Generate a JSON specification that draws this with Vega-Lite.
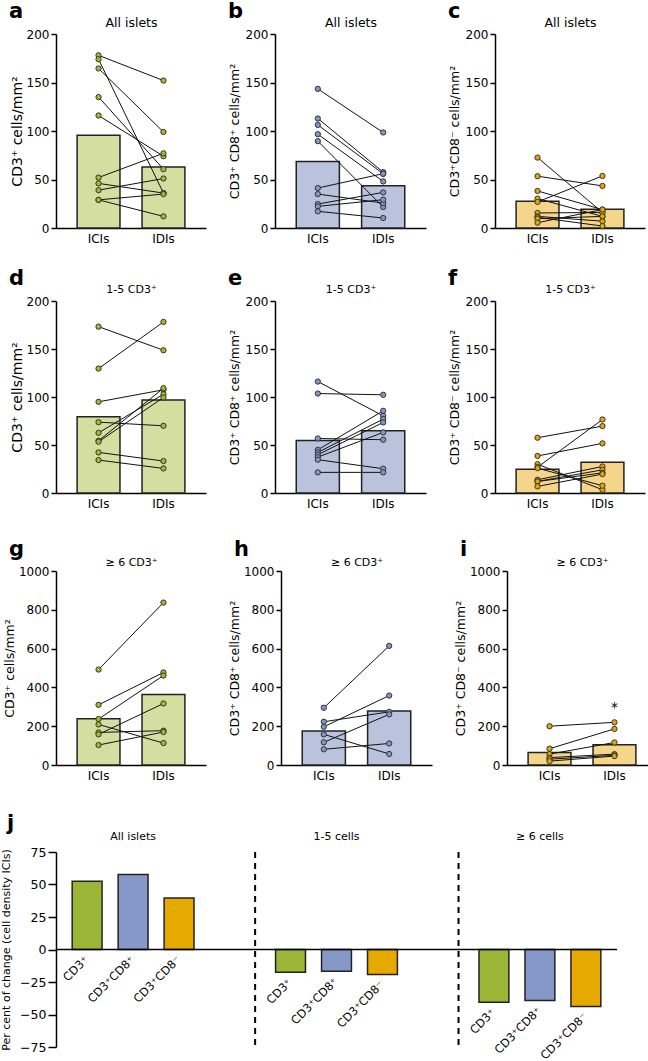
{
"$schema":"https://vega.github.io/schema/vega-lite/v6.json",
"padding":{"left":0,"top":1,"right":1,"bottom":0},
"datasets":{
"pts":[
{"p":"a","id":1,"ICIs":178,"IDIs":152},{"p":"a","id":2,"ICIs":174,"IDIs":36},{"p":"a","id":3,"ICIs":164.5,"IDIs":99},{"p":"a","id":4,"ICIs":135,"IDIs":60.6},{"p":"a","id":5,"ICIs":116,"IDIs":74},{"p":"a","id":6,"ICIs":52,"IDIs":77},{"p":"a","id":7,"ICIs":46,"IDIs":36},{"p":"a","id":8,"ICIs":39,"IDIs":51},{"p":"a","id":9,"ICIs":29,"IDIs":35},{"p":"a","id":10,"ICIs":29,"IDIs":12},
{"p":"b","id":1,"ICIs":143.4,"IDIs":98.5},{"p":"b","id":2,"ICIs":112.9,"IDIs":57.6},{"p":"b","id":3,"ICIs":106.3,"IDIs":55.9},{"p":"b","id":4,"ICIs":96.7,"IDIs":48},{"p":"b","id":5,"ICIs":89.5,"IDIs":21.6},{"p":"b","id":6,"ICIs":41.2,"IDIs":56},{"p":"b","id":7,"ICIs":35,"IDIs":25.7},{"p":"b","id":8,"ICIs":24.7,"IDIs":36.7},{"p":"b","id":9,"ICIs":22.3,"IDIs":29.2},{"p":"b","id":10,"ICIs":17.2,"IDIs":10.3},
{"p":"c","id":1,"ICIs":72.6,"IDIs":16},{"p":"c","id":2,"ICIs":53.4,"IDIs":43.4},{"p":"c","id":3,"ICIs":38.2,"IDIs":19},{"p":"c","id":4,"ICIs":30.3,"IDIs":12},{"p":"c","id":5,"ICIs":26.9,"IDIs":53.7},{"p":"c","id":6,"ICIs":15.5,"IDIs":16},{"p":"c","id":7,"ICIs":12,"IDIs":7},{"p":"c","id":8,"ICIs":11,"IDIs":2},{"p":"c","id":9,"ICIs":9.6,"IDIs":12},{"p":"c","id":10,"ICIs":5.5,"IDIs":19},
{"p":"d","id":1,"ICIs":173.3,"IDIs":148.7},{"p":"d","id":2,"ICIs":129.6,"IDIs":178.2},{"p":"d","id":3,"ICIs":95,"IDIs":107.5},{"p":"d","id":4,"ICIs":73.8,"IDIs":70},{"p":"d","id":5,"ICIs":62.7,"IDIs":102.9},{"p":"d","id":6,"ICIs":54.4,"IDIs":109.2},{"p":"d","id":7,"ICIs":53.4,"IDIs":99.5},{"p":"d","id":8,"ICIs":42.3,"IDIs":33.3},{"p":"d","id":9,"ICIs":34.3,"IDIs":25.6},
{"p":"e","id":1,"ICIs":116.1,"IDIs":80.4},{"p":"e","id":2,"ICIs":103.6,"IDIs":102.3},{"p":"e","id":3,"ICIs":56.8,"IDIs":55.5},{"p":"e","id":4,"ICIs":45,"IDIs":85.6},{"p":"e","id":5,"ICIs":42.3,"IDIs":77},{"p":"e","id":6,"ICIs":39.9,"IDIs":73.5},{"p":"e","id":7,"ICIs":37.4,"IDIs":63.1},{"p":"e","id":8,"ICIs":34.7,"IDIs":25.3},{"p":"e","id":9,"ICIs":21.5,"IDIs":21.5},
{"p":"f","id":1,"ICIs":57.6,"IDIs":69.7},{"p":"f","id":2,"ICIs":38.6,"IDIs":51.7},{"p":"f","id":3,"ICIs":30,"IDIs":3.4},{"p":"f","id":4,"ICIs":26.9,"IDIs":76.6},{"p":"f","id":5,"ICIs":25.9,"IDIs":7.6},{"p":"f","id":6,"ICIs":13.8,"IDIs":27.6},{"p":"f","id":7,"ICIs":12.1,"IDIs":24.1},{"p":"f","id":8,"ICIs":12,"IDIs":21},{"p":"f","id":9,"ICIs":6.9,"IDIs":19.7},
{"p":"g","id":1,"ICIs":492,"IDIs":837},{"p":"g","id":2,"ICIs":310,"IDIs":477},{"p":"g","id":3,"ICIs":237,"IDIs":461},{"p":"g","id":4,"ICIs":209,"IDIs":113},{"p":"g","id":5,"ICIs":168,"IDIs":177},{"p":"g","id":6,"ICIs":158,"IDIs":317},{"p":"g","id":7,"ICIs":103,"IDIs":170},
{"p":"h","id":1,"ICIs":295,"IDIs":614},{"p":"h","id":2,"ICIs":223,"IDIs":274},{"p":"h","id":3,"ICIs":197,"IDIs":358},{"p":"h","id":4,"ICIs":158,"IDIs":57},{"p":"h","id":5,"ICIs":117,"IDIs":261},{"p":"h","id":6,"ICIs":81,"IDIs":111},
{"p":"i","id":1,"ICIs":200,"IDIs":220},{"p":"i","id":2,"ICIs":84,"IDIs":186},{"p":"i","id":3,"ICIs":56,"IDIs":116},{"p":"i","id":4,"ICIs":38,"IDIs":56},{"p":"i","id":5,"ICIs":30,"IDIs":50},{"p":"i","id":6,"ICIs":20,"IDIs":46}
],
"bars":[
{"p":"a","ICIs":95.7,"IDIs":63},{"p":"b","ICIs":68.6,"IDIs":43.6},{"p":"c","ICIs":27.5,"IDIs":19.3},
{"p":"d","ICIs":79.4,"IDIs":97},{"p":"e","ICIs":54.8,"IDIs":64.8},{"p":"f","ICIs":24.8,"IDIs":32},
{"p":"g","ICIs":238,"IDIs":364},{"p":"h","ICIs":175,"IDIs":278},{"p":"i","ICIs":65,"IDIs":105}
],
"jd":[
{"grp":"All islets","cell":"CD3⁺","v":52.5},{"grp":"All islets","cell":"CD3⁺CD8⁺","v":57.7},{"grp":"All islets","cell":"CD3⁺CD8⁻","v":39.7},
{"grp":"1-5 cells","cell":"CD3⁺","v":-17.5},{"grp":"1-5 cells","cell":"CD3⁺CD8⁺","v":-16.7},{"grp":"1-5 cells","cell":"CD3⁺CD8⁻","v":-19.2},
{"grp":"≥ 6 cells","cell":"CD3⁺","v":-40.5},{"grp":"≥ 6 cells","cell":"CD3⁺CD8⁺","v":-39.2},{"grp":"≥ 6 cells","cell":"CD3⁺CD8⁻","v":-43.8}
]
},
"align":"none",
"vconcat":[
{"align":"none","vconcat":[
{"align":"none","vconcat":[
{"hconcat":[
{"width":150,"height":194,"title":{"text":"a","anchor":"start","frame":"group","dx":-47,"offset":-6,"fontSize":21,"fontWeight":"bold","color":"#000"},"resolve":{"axis":{"x":"independent"}},
"layer":[
{"data":{"name":"bars"},"transform":[{"filter":"datum.p==='a'"},{"fold":["ICIs","IDIs"],"as":["g","v"]}],"mark":{"type":"bar","fill":"#d3dea0","stroke":"#222","strokeWidth":1.5},
"encoding":{"x":{"field":"g","type":"nominal","scale":{"domain":["ICIs","IDIs"],"paddingInner":0.34,"paddingOuter":0.325},"axis":{"orient":"top","title":"All islets","titleFontSize":12.5,"labels":false,"ticks":false,"domain":false,"titlePadding":5}},
"y":{"field":"v","type":"quantitative","scale":{"domain":[0,200]},"axis":{"title":"CD3⁺ cells/mm²","titleFontSize":14,"titlePadding":2,"tickCount":10,"values":[0,50,100,150,200]}}}},
{"data":{"name":"pts"},"transform":[{"filter":"datum.p==='a'"},{"fold":["ICIs","IDIs"],"as":["g","v"]}],"mark":{"type":"line","color":"#111","strokeWidth":1},
"encoding":{"x":{"field":"g","type":"nominal","axis":{"title":null,"labelAngle":0,"ticks":false,"labelPadding":5}},"y":{"field":"v","type":"quantitative"},"detail":{"field":"id","type":"nominal"}}},
{"data":{"name":"pts"},"transform":[{"filter":"datum.p==='a'"},{"fold":["ICIs","IDIs"],"as":["g","v"]}],"mark":{"type":"point","shape":"circle","filled":true,"fill":"#a3b82b","stroke":"#333","strokeWidth":1,"size":28,"opacity":1},
"encoding":{"x":{"field":"g","type":"nominal","axis":null},"y":{"field":"v","type":"quantitative"}}}
]},
{"width":151,"height":194,"title":{"text":"b","anchor":"start","frame":"group","dx":-47,"offset":-6,"fontSize":21,"fontWeight":"bold","color":"#000"},"resolve":{"axis":{"x":"independent"}},
"layer":[
{"data":{"name":"bars"},"transform":[{"filter":"datum.p==='b'"},{"fold":["ICIs","IDIs"],"as":["g","v"]}],"mark":{"type":"bar","fill":"#b9c4dc","stroke":"#222","strokeWidth":1.5},
"encoding":{"x":{"field":"g","type":"nominal","scale":{"domain":["ICIs","IDIs"],"paddingInner":0.34,"paddingOuter":0.325},"axis":{"orient":"top","title":"All islets","titleFontSize":12.5,"labels":false,"ticks":false,"domain":false,"titlePadding":5}},
"y":{"field":"v","type":"quantitative","scale":{"domain":[0,200]},"axis":{"title":"CD3⁺ CD8⁺ cells/mm²","titleFontSize":12.5,"tickCount":10,"values":[0,50,100,150,200]}}}},
{"data":{"name":"pts"},"transform":[{"filter":"datum.p==='b'"},{"fold":["ICIs","IDIs"],"as":["g","v"]}],"mark":{"type":"line","color":"#111","strokeWidth":1},
"encoding":{"x":{"field":"g","type":"nominal","axis":{"title":null,"labelAngle":0,"ticks":false,"labelPadding":5}},"y":{"field":"v","type":"quantitative"},"detail":{"field":"id","type":"nominal"}}},
{"data":{"name":"pts"},"transform":[{"filter":"datum.p==='b'"},{"fold":["ICIs","IDIs"],"as":["g","v"]}],"mark":{"type":"point","shape":"circle","filled":true,"fill":"#8395c6","stroke":"#333","strokeWidth":1,"size":28,"opacity":1},
"encoding":{"x":{"field":"g","type":"nominal","axis":null},"y":{"field":"v","type":"quantitative"}}}
]},
{"width":150,"height":194,"title":{"text":"c","anchor":"start","frame":"group","dx":-47,"offset":-6,"fontSize":21,"fontWeight":"bold","color":"#000"},"resolve":{"axis":{"x":"independent"}},
"layer":[
{"data":{"name":"bars"},"transform":[{"filter":"datum.p==='c'"},{"fold":["ICIs","IDIs"],"as":["g","v"]}],"mark":{"type":"bar","fill":"#f4d589","stroke":"#222","strokeWidth":1.5},
"encoding":{"x":{"field":"g","type":"nominal","scale":{"domain":["ICIs","IDIs"],"paddingInner":0.34,"paddingOuter":0.325},"axis":{"orient":"top","title":"All islets","titleFontSize":12.5,"labels":false,"ticks":false,"domain":false,"titlePadding":5}},
"y":{"field":"v","type":"quantitative","scale":{"domain":[0,200]},"axis":{"title":"CD3⁺CD8⁻ cells/mm²","titleFontSize":12.5,"tickCount":10,"values":[0,50,100,150,200]}}}},
{"data":{"name":"pts"},"transform":[{"filter":"datum.p==='c'"},{"fold":["ICIs","IDIs"],"as":["g","v"]}],"mark":{"type":"line","color":"#111","strokeWidth":1},
"encoding":{"x":{"field":"g","type":"nominal","axis":{"title":null,"labelAngle":0,"ticks":false,"labelPadding":5}},"y":{"field":"v","type":"quantitative"},"detail":{"field":"id","type":"nominal"}}},
{"data":{"name":"pts"},"transform":[{"filter":"datum.p==='c'"},{"fold":["ICIs","IDIs"],"as":["g","v"]}],"mark":{"type":"point","shape":"circle","filled":true,"fill":"#e4a700","stroke":"#333","strokeWidth":1,"size":28,"opacity":1},
"encoding":{"x":{"field":"g","type":"nominal","axis":null},"y":{"field":"v","type":"quantitative"}}}
]}
],"spacing":22},
{"hconcat":[
{"width":150,"height":192,"title":{"text":"d","anchor":"start","frame":"group","dx":-47,"offset":-6,"fontSize":21,"fontWeight":"bold","color":"#000"},"resolve":{"axis":{"x":"independent"}},
"layer":[
{"data":{"name":"bars"},"transform":[{"filter":"datum.p==='d'"},{"fold":["ICIs","IDIs"],"as":["g","v"]}],"mark":{"type":"bar","fill":"#d3dea0","stroke":"#222","strokeWidth":1.5},
"encoding":{"x":{"field":"g","type":"nominal","scale":{"domain":["ICIs","IDIs"],"paddingInner":0.34,"paddingOuter":0.325},"axis":{"orient":"top","title":"1-5 CD3⁺","titleFontSize":11,"labels":false,"ticks":false,"domain":false,"titlePadding":7}},
"y":{"field":"v","type":"quantitative","scale":{"domain":[0,200]},"axis":{"title":"CD3⁺ cells/mm²","titleFontSize":14,"titlePadding":2,"tickCount":10,"values":[0,50,100,150,200]}}}},
{"data":{"name":"pts"},"transform":[{"filter":"datum.p==='d'"},{"fold":["ICIs","IDIs"],"as":["g","v"]}],"mark":{"type":"line","color":"#111","strokeWidth":1},
"encoding":{"x":{"field":"g","type":"nominal","axis":{"title":null,"labelAngle":0,"ticks":false,"labelPadding":5}},"y":{"field":"v","type":"quantitative"},"detail":{"field":"id","type":"nominal"}}},
{"data":{"name":"pts"},"transform":[{"filter":"datum.p==='d'"},{"fold":["ICIs","IDIs"],"as":["g","v"]}],"mark":{"type":"point","shape":"circle","filled":true,"fill":"#a3b82b","stroke":"#333","strokeWidth":1,"size":28,"opacity":1},
"encoding":{"x":{"field":"g","type":"nominal","axis":null},"y":{"field":"v","type":"quantitative"}}}
]},
{"width":151,"height":192,"title":{"text":"e","anchor":"start","frame":"group","dx":-47,"offset":-6,"fontSize":21,"fontWeight":"bold","color":"#000"},"resolve":{"axis":{"x":"independent"}},
"layer":[
{"data":{"name":"bars"},"transform":[{"filter":"datum.p==='e'"},{"fold":["ICIs","IDIs"],"as":["g","v"]}],"mark":{"type":"bar","fill":"#b9c4dc","stroke":"#222","strokeWidth":1.5},
"encoding":{"x":{"field":"g","type":"nominal","scale":{"domain":["ICIs","IDIs"],"paddingInner":0.34,"paddingOuter":0.325},"axis":{"orient":"top","title":"1-5 CD3⁺","titleFontSize":11,"labels":false,"ticks":false,"domain":false,"titlePadding":7}},
"y":{"field":"v","type":"quantitative","scale":{"domain":[0,200]},"axis":{"title":"CD3⁺ CD8⁺ cells/mm²","titleFontSize":12.5,"tickCount":10,"values":[0,50,100,150,200]}}}},
{"data":{"name":"pts"},"transform":[{"filter":"datum.p==='e'"},{"fold":["ICIs","IDIs"],"as":["g","v"]}],"mark":{"type":"line","color":"#111","strokeWidth":1},
"encoding":{"x":{"field":"g","type":"nominal","axis":{"title":null,"labelAngle":0,"ticks":false,"labelPadding":5}},"y":{"field":"v","type":"quantitative"},"detail":{"field":"id","type":"nominal"}}},
{"data":{"name":"pts"},"transform":[{"filter":"datum.p==='e'"},{"fold":["ICIs","IDIs"],"as":["g","v"]}],"mark":{"type":"point","shape":"circle","filled":true,"fill":"#8395c6","stroke":"#333","strokeWidth":1,"size":28,"opacity":1},
"encoding":{"x":{"field":"g","type":"nominal","axis":null},"y":{"field":"v","type":"quantitative"}}}
]},
{"width":150,"height":192,"title":{"text":"f","anchor":"start","frame":"group","dx":-47,"offset":-6,"fontSize":21,"fontWeight":"bold","color":"#000"},"resolve":{"axis":{"x":"independent"}},
"layer":[
{"data":{"name":"bars"},"transform":[{"filter":"datum.p==='f'"},{"fold":["ICIs","IDIs"],"as":["g","v"]}],"mark":{"type":"bar","fill":"#f4d589","stroke":"#222","strokeWidth":1.5},
"encoding":{"x":{"field":"g","type":"nominal","scale":{"domain":["ICIs","IDIs"],"paddingInner":0.34,"paddingOuter":0.325},"axis":{"orient":"top","title":"1-5 CD3⁺","titleFontSize":11,"labels":false,"ticks":false,"domain":false,"titlePadding":7}},
"y":{"field":"v","type":"quantitative","scale":{"domain":[0,200]},"axis":{"title":"CD3⁺ CD8⁻ cells/mm²","titleFontSize":12.5,"tickCount":10,"values":[0,50,100,150,200]}}}},
{"data":{"name":"pts"},"transform":[{"filter":"datum.p==='f'"},{"fold":["ICIs","IDIs"],"as":["g","v"]}],"mark":{"type":"line","color":"#111","strokeWidth":1},
"encoding":{"x":{"field":"g","type":"nominal","axis":{"title":null,"labelAngle":0,"ticks":false,"labelPadding":5}},"y":{"field":"v","type":"quantitative"},"detail":{"field":"id","type":"nominal"}}},
{"data":{"name":"pts"},"transform":[{"filter":"datum.p==='f'"},{"fold":["ICIs","IDIs"],"as":["g","v"]}],"mark":{"type":"point","shape":"circle","filled":true,"fill":"#e4a700","stroke":"#333","strokeWidth":1,"size":28,"opacity":1},
"encoding":{"x":{"field":"g","type":"nominal","axis":null},"y":{"field":"v","type":"quantitative"}}}
]}
],"spacing":22}
],"spacing":24},
{"hconcat":[
{"width":150,"height":194,"title":{"text":"g","anchor":"start","frame":"group","dx":-47,"offset":-4,"fontSize":21,"fontWeight":"bold","color":"#000"},"resolve":{"axis":{"x":"independent"}},
"layer":[
{"data":{"name":"bars"},"transform":[{"filter":"datum.p==='g'"},{"fold":["ICIs","IDIs"],"as":["g","v"]}],"mark":{"type":"bar","fill":"#d3dea0","stroke":"#222","strokeWidth":1.5},
"encoding":{"x":{"field":"g","type":"nominal","scale":{"domain":["ICIs","IDIs"],"paddingInner":0.34,"paddingOuter":0.325},"axis":{"orient":"top","title":"≥ 6 CD3⁺","titleFontSize":11,"labels":false,"ticks":false,"domain":false,"titlePadding":4}},
"y":{"field":"v","type":"quantitative","scale":{"domain":[0,1000]},"axis":{"title":"CD3⁺ cells/mm²","titleFontSize":12.5,"titlePadding":2,"tickCount":10,"format":"d","values":[0,200,400,600,800,1000]}}}},
{"data":{"name":"pts"},"transform":[{"filter":"datum.p==='g'"},{"fold":["ICIs","IDIs"],"as":["g","v"]}],"mark":{"type":"line","color":"#111","strokeWidth":1},
"encoding":{"x":{"field":"g","type":"nominal","axis":{"title":null,"labelAngle":0,"ticks":false,"labelPadding":5}},"y":{"field":"v","type":"quantitative"},"detail":{"field":"id","type":"nominal"}}},
{"data":{"name":"pts"},"transform":[{"filter":"datum.p==='g'"},{"fold":["ICIs","IDIs"],"as":["g","v"]}],"mark":{"type":"point","shape":"circle","filled":true,"fill":"#a3b82b","stroke":"#333","strokeWidth":1,"size":28,"opacity":1},
"encoding":{"x":{"field":"g","type":"nominal","axis":null},"y":{"field":"v","type":"quantitative"}}}
]},
{"width":151,"height":194,"title":{"text":"h","anchor":"start","frame":"group","dx":-47,"offset":-4,"fontSize":21,"fontWeight":"bold","color":"#000"},"resolve":{"axis":{"x":"independent"}},
"layer":[
{"data":{"name":"bars"},"transform":[{"filter":"datum.p==='h'"},{"fold":["ICIs","IDIs"],"as":["g","v"]}],"mark":{"type":"bar","fill":"#b9c4dc","stroke":"#222","strokeWidth":1.5},
"encoding":{"x":{"field":"g","type":"nominal","scale":{"domain":["ICIs","IDIs"],"paddingInner":0.34,"paddingOuter":0.325},"axis":{"orient":"top","title":"≥ 6 CD3⁺","titleFontSize":11,"labels":false,"ticks":false,"domain":false,"titlePadding":4}},
"y":{"field":"v","type":"quantitative","scale":{"domain":[0,1000]},"axis":{"title":"CD3⁺ CD8⁺ cells/mm²","titleFontSize":12.5,"titlePadding":2,"tickCount":10,"format":"d","values":[0,200,400,600,800,1000]}}}},
{"data":{"name":"pts"},"transform":[{"filter":"datum.p==='h'"},{"fold":["ICIs","IDIs"],"as":["g","v"]}],"mark":{"type":"line","color":"#111","strokeWidth":1},
"encoding":{"x":{"field":"g","type":"nominal","axis":{"title":null,"labelAngle":0,"ticks":false,"labelPadding":5}},"y":{"field":"v","type":"quantitative"},"detail":{"field":"id","type":"nominal"}}},
{"data":{"name":"pts"},"transform":[{"filter":"datum.p==='h'"},{"fold":["ICIs","IDIs"],"as":["g","v"]}],"mark":{"type":"point","shape":"circle","filled":true,"fill":"#8395c6","stroke":"#333","strokeWidth":1,"size":28,"opacity":1},
"encoding":{"x":{"field":"g","type":"nominal","axis":null},"y":{"field":"v","type":"quantitative"}}}
]},
{"width":150,"height":194,"title":{"text":"i","anchor":"start","frame":"group","dx":-47,"offset":-4,"fontSize":21,"fontWeight":"bold","color":"#000"},"resolve":{"axis":{"x":"independent"}},
"layer":[
{"data":{"name":"bars"},"transform":[{"filter":"datum.p==='i'"},{"fold":["ICIs","IDIs"],"as":["g","v"]}],"mark":{"type":"bar","fill":"#f4d589","stroke":"#222","strokeWidth":1.5},
"encoding":{"x":{"field":"g","type":"nominal","scale":{"domain":["ICIs","IDIs"],"paddingInner":0.34,"paddingOuter":0.325},"axis":{"orient":"top","title":"≥ 6 CD3⁺","titleFontSize":11,"labels":false,"ticks":false,"domain":false,"titlePadding":4}},
"y":{"field":"v","type":"quantitative","scale":{"domain":[0,1000]},"axis":{"title":"CD3⁺ CD8⁻ cells/mm²","titleFontSize":12.5,"titlePadding":2,"tickCount":10,"format":"d","values":[0,200,400,600,800,1000]}}}},
{"data":{"name":"pts"},"transform":[{"filter":"datum.p==='i'"},{"fold":["ICIs","IDIs"],"as":["g","v"]}],"mark":{"type":"line","color":"#111","strokeWidth":1},
"encoding":{"x":{"field":"g","type":"nominal","axis":{"title":null,"labelAngle":0,"ticks":false,"labelPadding":5}},"y":{"field":"v","type":"quantitative"},"detail":{"field":"id","type":"nominal"}}},
{"data":{"name":"pts"},"transform":[{"filter":"datum.p==='i'"},{"fold":["ICIs","IDIs"],"as":["g","v"]}],"mark":{"type":"point","shape":"circle","filled":true,"fill":"#e4a700","stroke":"#333","strokeWidth":1,"size":28,"opacity":1},
"encoding":{"x":{"field":"g","type":"nominal","axis":null},"y":{"field":"v","type":"quantitative"}}},
{"data":{"values":[{}]},"mark":{"type":"text","text":"*","fontSize":14,"color":"#000","baseline":"middle"},
"encoding":{"x":{"datum":"IDIs","type":"nominal","axis":null},"y":{"datum":295,"type":"quantitative"}}}
]}
],"spacing":22}
],"spacing":30},
{"width":561,"height":195,"title":{"text":"j","anchor":"start","frame":"group","dx":-49,"offset":-4,"fontSize":21,"fontWeight":"bold","color":"#000"},"resolve":{"axis":{"x":"independent"}},
"layer":[
{"data":{"name":"jd"},"mark":{"type":"bar","stroke":"#222","strokeWidth":1.5},
"encoding":{"x":{"field":"grp","type":"nominal","scale":{"domain":["All islets","1-5 cells","≥ 6 cells"],"paddingInner":0.322,"paddingOuter":0.04},"axis":{"orient":"top","title":null,"ticks":false,"domain":false,"labelAngle":0,"labelPadding":11,"labelFontSize":11}},
"xOffset":{"field":"cell","type":"nominal","scale":{"domain":["CD3⁺","CD3⁺CD8⁺","CD3⁺CD8⁻"],"paddingInner":0.35,"paddingOuter":0.175}},
"y":{"field":"v","type":"quantitative","scale":{"domain":[-75,75],"nice":false},"axis":{"values":[-75,-50,-25,0,25,50,75],"tickCount":12,"title":"Per cent of change (cell density ICIs)","titleFontSize":11,"titlePadding":8,"tickSize":8,"labelFontSize":12.5}},
"color":{"field":"cell","type":"nominal","scale":{"domain":["CD3⁺","CD3⁺CD8⁺","CD3⁺CD8⁻"],"range":["#9bb536","#8598c7","#e5a900"]},"legend":null}}},
{"data":{"values":[{}]},"mark":{"type":"rule","color":"#000","strokeWidth":1.5},"encoding":{"y":{"datum":0,"type":"quantitative"}}},
{"data":{"values":[{"grp":"1-5 cells"},{"grp":"≥ 6 cells"}]},"mark":{"type":"rule","color":"#000","strokeWidth":2,"strokeDash":[6,5]},
"encoding":{"x":{"field":"grp","type":"nominal","bandPosition":-0.09,"axis":null},"y":{"datum":75,"type":"quantitative"},"y2":{"datum":-75}}},
{"data":{"name":"jd"},"transform":[{"calculate":"min(datum.v,0)","as":"ly"}],"mark":{"type":"text","angle":-45,"align":"right","baseline":"middle","fontSize":11.5,"yOffset":9,"color":"#000"},
"encoding":{"x":{"field":"grp","type":"nominal","axis":null},"xOffset":{"field":"cell","type":"nominal"},"y":{"field":"ly","type":"quantitative"},"text":{"field":"cell"}}}
]}
],"spacing":32,
"config":{
"font":"DejaVu Sans",
"view":{"stroke":null},
"title":{"font":"DejaVu Sans","color":"#000"},
"axis":{"grid":false,"labelFont":"DejaVu Sans","titleFont":"DejaVu Sans","labelFontSize":12,"titleFontWeight":"normal","domainColor":"#000","domainWidth":1.5,"tickColor":"#000","tickWidth":1.5,"tickSize":5,"labelColor":"#000","titleColor":"#000","labelPadding":2,"titlePadding":4}
}
}
